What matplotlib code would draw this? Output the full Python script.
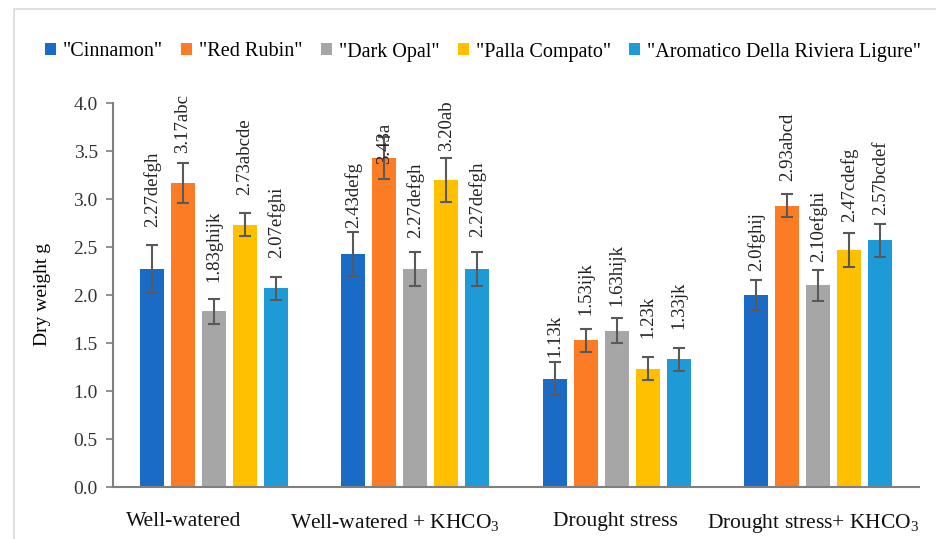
import matplotlib
matplotlib.use("Agg")
import matplotlib.pyplot as plt
import matplotlib.transforms as mtrans
import numpy as np
from matplotlib.patches import Rectangle

plt.rcParams['font.family'] = ['Liberation Serif', 'DejaVu Serif']
plt.rcParams['mathtext.fontset'] = 'custom'
plt.rcParams['mathtext.rm'] = 'Liberation Serif'
plt.rcParams['mathtext.it'] = 'Liberation Serif:italic'

categories = ["Well-watered", "Well-watered + KHCO$_3$", "Drought stress", "Drought stress+ KHCO$_3$"]
series = ['"Cinnamon"', '"Red Rubin"', '"Dark Opal"', '"Palla Compato"', '"Aromatico Della Riviera Ligure"']
colors = ["#1a6bc6", "#fb7c24", "#a6a6a6", "#ffc000", "#1e9bd7"]

values = [
    [2.27, 2.43, 1.13, 2.00],
    [3.17, 3.43, 1.53, 2.93],
    [1.83, 2.27, 1.63, 2.10],
    [2.73, 3.20, 1.23, 2.47],
    [2.07, 2.27, 1.33, 2.57],
]
errors = [
    [0.25, 0.23, 0.17, 0.16],
    [0.21, 0.22, 0.12, 0.12],
    [0.13, 0.18, 0.13, 0.16],
    [0.12, 0.23, 0.12, 0.18],
    [0.12, 0.18, 0.12, 0.17],
]
labels = [
    ["2.27defgh", "2.43defg", "1.13k", "2.0fghij"],
    ["3.17abc", "3.43a", "1.53ijk", "2.93abcd"],
    ["1.83ghijk", "2.27defgh", "1.63hijk", "2.10efghi"],
    ["2.73abcde", "3.20ab", "1.23k", "2.47cdefg"],
    ["2.07efghi", "2.27defgh", "1.33jk", "2.57bcdef"],
]
# label gap above the error-bar cap, in pixels (manual placement in the original)
label_gap_px = [
    [18, 4, 5, 9],
    [10, -27, 14, 13],
    [17, 14, 12, 8],
    [18, 7, 19, 11],
    [19, 15, 19, 9],
]

fig = plt.figure(figsize=(9.37, 5.39), dpi=100)
ax = fig.add_axes([113/937, 1-487/539, (919-113)/937, (487-103)/539])

x = np.arange(len(categories))
pitch = 0.154
width = 0.119
for i, (s, c) in enumerate(zip(series, colors)):
    pos = x + (i - 2) * pitch
    ax.bar(pos, values[i], width=width, color=c, label=s, zorder=2)
    ax.errorbar(pos, values[i], yerr=errors[i], fmt='none', ecolor='#595959',
                elinewidth=1.5, capsize=4, capthick=1.5, zorder=3)
    for p, v, e, t, g in zip(pos, values[i], errors[i], labels[i], label_gap_px[i]):
        ax.annotate(t, (p, v + e), xytext=(0, g * 0.72), textcoords='offset points',
                    rotation=90, ha='center', va='bottom', fontsize=13.5, color='#222222',
                    zorder=4)

ax.set_xlim(-0.5, 3.5)
ax.set_ylim(0, 4.0)
ax.set_yticks(np.arange(0, 4.01, 0.5))
ax.set_yticklabels([f"{v:.1f}" for v in np.arange(0, 4.01, 0.5)], fontsize=14, color='#333333')
ax.set_xticks(x)
ax.set_xticklabels(categories, fontsize=15.5, color='#111111')
ax.tick_params(axis='x', length=0, pad=18)
ax.tick_params(axis='y', length=5, width=1.2, color='#7f7f7f', pad=6)
for sp in ['top', 'right']:
    ax.spines[sp].set_visible(False)
for sp in ['left', 'bottom']:
    ax.spines[sp].set_color('#7f7f7f')
    ax.spines[sp].set_linewidth(1.5)
ax.set_ylabel("Dry weight g", fontsize=14, labelpad=16)

# shift category labels horizontally as in the original layout
shifts_px = [-30, -20, -1, -5]
for lbl, sh in zip(ax.get_xticklabels(), shifts_px):
    lbl.set_transform(lbl.get_transform() + mtrans.Affine2D().translate(sh, 0))

fig.legend(loc='center', bbox_to_anchor=(483/937, 1-52/539), ncol=5, frameon=False,
           fontsize=14.5, handlelength=0.55, handleheight=0.55, handletextpad=0.35,
           columnspacing=0.9)

fig.add_artist(Rectangle((14/937, -0.1), 1.2, 1 - 9/539 + 0.1, transform=fig.transFigure,
                         fill=False, edgecolor='#d9d9d9', linewidth=1.2))

fig.savefig("out.png", dpi=100)
